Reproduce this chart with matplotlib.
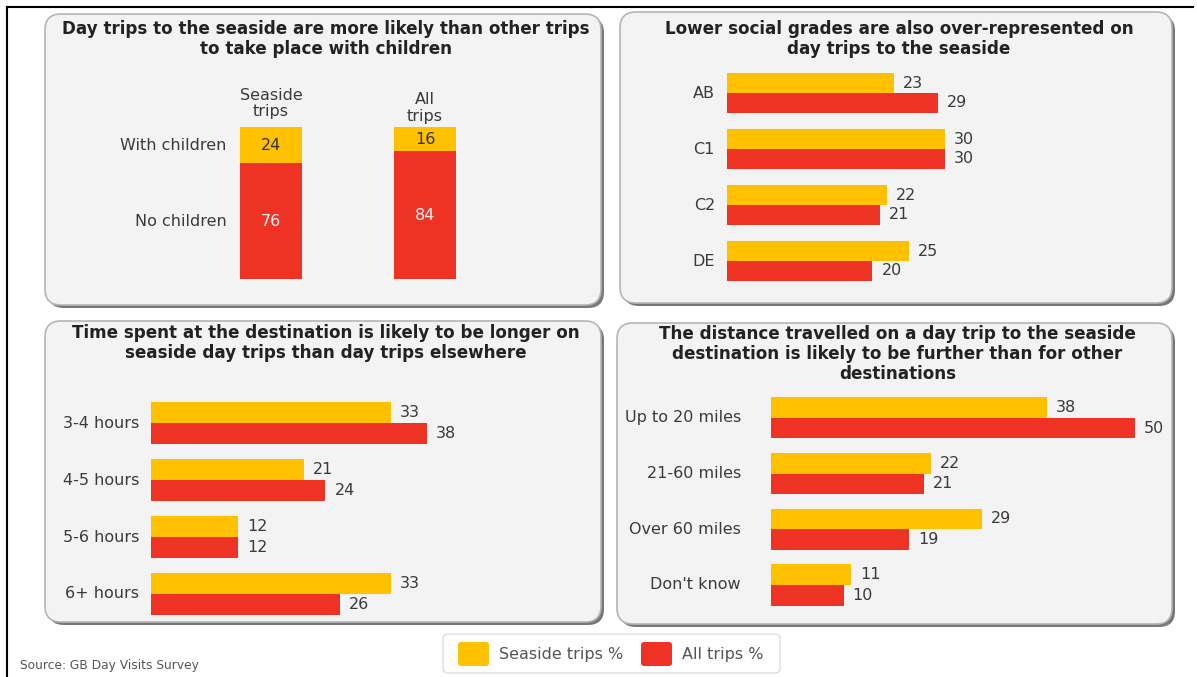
import matplotlib.pyplot as plt
from matplotlib.patches import FancyBboxPatch
import matplotlib.transforms as mtransforms

plt.rcParams['font.family'] = ['DejaVu Sans']

YELLOW = '#FFC000'
RED = '#EE3224'
TXT = '#3a3a3a'

# children split (stacked)
stack_groups = ['Seaside\ntrips', 'All\ntrips']
with_children = [24, 16]
no_children = [76, 84]

# social grade
grade_cats = ['AB', 'C1', 'C2', 'DE']
grade_seaside = [23, 30, 22, 25]
grade_all = [29, 30, 21, 20]

# time at destination
time_cats = ['3-4 hours', '4-5 hours', '5-6 hours', '6+ hours']
time_seaside = [33, 21, 12, 33]
time_all = [38, 24, 12, 26]

# distance travelled
dist_cats = ['Up to 20 miles', '21-60 miles', 'Over 60 miles', "Don't know"]
dist_seaside = [38, 22, 29, 11]
dist_all = [50, 21, 19, 10]

LBL = 11.5

W, H = 1197, 677
fig = plt.figure(figsize=(W / 100, H / 100), dpi=100)
fig.patch.set_facecolor('white')

bg = fig.add_axes([0, 0, 1, 1])
bg.set_xlim(0, W)
bg.set_ylim(H, 0)
bg.axis('off')


def px_axes(left, top, width, height):
    ax = fig.add_axes([left / W, 1 - (top + height) / H, width / W, height / H])
    ax.patch.set_alpha(0)
    for s in ax.spines.values():
        s.set_visible(False)
    ax.set_xticks([])
    ax.set_yticks([])
    return ax


def panel(x0, y0, x1, y1, title, ty):
    shadow = FancyBboxPatch((x0 + 3, y0 + 3), x1 - x0, y1 - y0,
                            boxstyle='round,pad=0,rounding_size=16',
                            fc='#777777', ec='none', zorder=1)
    bg.add_patch(shadow)
    box = FancyBboxPatch((x0, y0), x1 - x0, y1 - y0,
                         boxstyle='round,pad=0,rounding_size=16',
                         fc='#f3f3f3', ec='#b5b5b5', lw=1.2, zorder=2)
    bg.add_patch(box)
    bg.text((x0 + x1) / 2 + 3, ty, title, ha='center', va='top', fontsize=12.1,
            fontweight='bold', color='#222222', linespacing=1.14, zorder=3)


# outer frame lines
bg.plot([7, 7], [7, H], color='black', lw=1.5)
bg.plot([7, 1193], [7, 7], color='black', lw=1.5)

panel(45, 14, 601, 305,
      'Day trips to the seaside are more likely than other trips\nto take place with children', 20)
panel(620, 12, 1172, 303,
      'Lower social grades are also over-represented on\nday trips to the seaside', 20)
panel(45, 321, 601, 622,
      'Time spent at the destination is likely to be longer on\nseaside day trips than day trips elsewhere', 324)
panel(617, 323, 1172, 624,
      'The distance travelled on a day trip to the seaside\ndestination is likely to be further than for other\ndestinations', 325)

# ---- stacked columns: with / without children
step = 154
ax1 = px_axes(271 - 0.3 * step, 127, 1.6 * step, 152)
ax1.set_xlim(-0.3, 1.3)
ax1.set_ylim(100, 0)
xs = range(len(stack_groups))
ax1.bar(xs, with_children, width=0.4, color=YELLOW)
ax1.bar(xs, no_children, width=0.4, bottom=with_children, color=RED)
for i in xs:
    ax1.text(i, with_children[i] / 2, str(with_children[i]), ha='center', va='center',
             fontsize=LBL, color='#333333')
    ax1.text(i, with_children[i] + no_children[i] / 2, str(no_children[i]), ha='center',
             va='center', fontsize=LBL, color='#f4f4f4')
ax1.text(0, -5, stack_groups[0], ha='center', va='bottom', fontsize=LBL, color=TXT,
         linespacing=1.15, clip_on=False)
ax1.text(1, -2, stack_groups[1], ha='center', va='bottom', fontsize=LBL, color=TXT,
         linespacing=1.15, clip_on=False)
ax1.text(-0.29, with_children[0] / 2, 'With children', ha='right', va='center',
         fontsize=LBL, color=TXT, clip_on=False)
ax1.text(-0.29, with_children[0] + no_children[0] / 2, 'No children', ha='right',
         va='center', fontsize=LBL, color=TXT, clip_on=False)

SCALE = 7.27  # pixels per percentage point


def paired_bars(left, top, spacing, xmax, bar_h, cats, sea, alltr, label_gap):
    n = len(cats)
    ax = px_axes(left, top, SCALE * xmax, spacing * n)
    ax.set_xlim(0, xmax)
    ax.set_ylim(n - 0.5, -0.5)
    pos = list(range(n))
    ax.barh([p - bar_h / 2 for p in pos], sea, height=bar_h, color=YELLOW)
    ax.barh([p + bar_h / 2 for p in pos], alltr, height=bar_h, color=RED)
    off = mtransforms.offset_copy(ax.transData, fig=fig, x=9, y=0, units='dots')
    for p in pos:
        ax.text(sea[p], p - bar_h / 2, str(sea[p]), transform=off, ha='left',
                va='center', fontsize=LBL, color=TXT, clip_on=False)
        ax.text(alltr[p], p + bar_h / 2, str(alltr[p]), transform=off, ha='left',
                va='center', fontsize=LBL, color=TXT, clip_on=False)
    lab = mtransforms.offset_copy(ax.transData, fig=fig, x=-label_gap, y=0, units='dots')
    for p in pos:
        ax.text(0, p, cats[p], transform=lab, ha='right', va='center', fontsize=LBL,
                color=TXT, clip_on=False)
    return ax


paired_bars(727, 65, 56, 40, 0.357, grade_cats, grade_seaside, grade_all, 12)
paired_bars(151, 395, 56.8, 45, 0.37, time_cats, time_seaside, time_all, 12)
paired_bars(771, 390, 55.7, 56, 0.37, dist_cats, dist_seaside, dist_all, 30)

# legend
leg = FancyBboxPatch((443, 634), 337, 39, boxstyle='round,pad=0,rounding_size=5',
                     fc='white', ec='#dddddd', lw=1, zorder=2)
bg.add_patch(leg)
for x, c, t in [(458, YELLOW, 'Seaside trips %'), (641, RED, 'All trips %')]:
    bg.add_patch(FancyBboxPatch((x, 642), 31, 24, boxstyle='round,pad=0,rounding_size=3',
                                fc=c, ec='none', zorder=3))
    bg.text(x + 41, 655, t, ha='left', va='center', fontsize=LBL, color='#555555', zorder=3)

bg.text(20, 666, 'Source: GB Day Visits Survey', ha='left', va='center', fontsize=8.8,
        color='#555555')

fig.savefig('out.png', dpi=100)
